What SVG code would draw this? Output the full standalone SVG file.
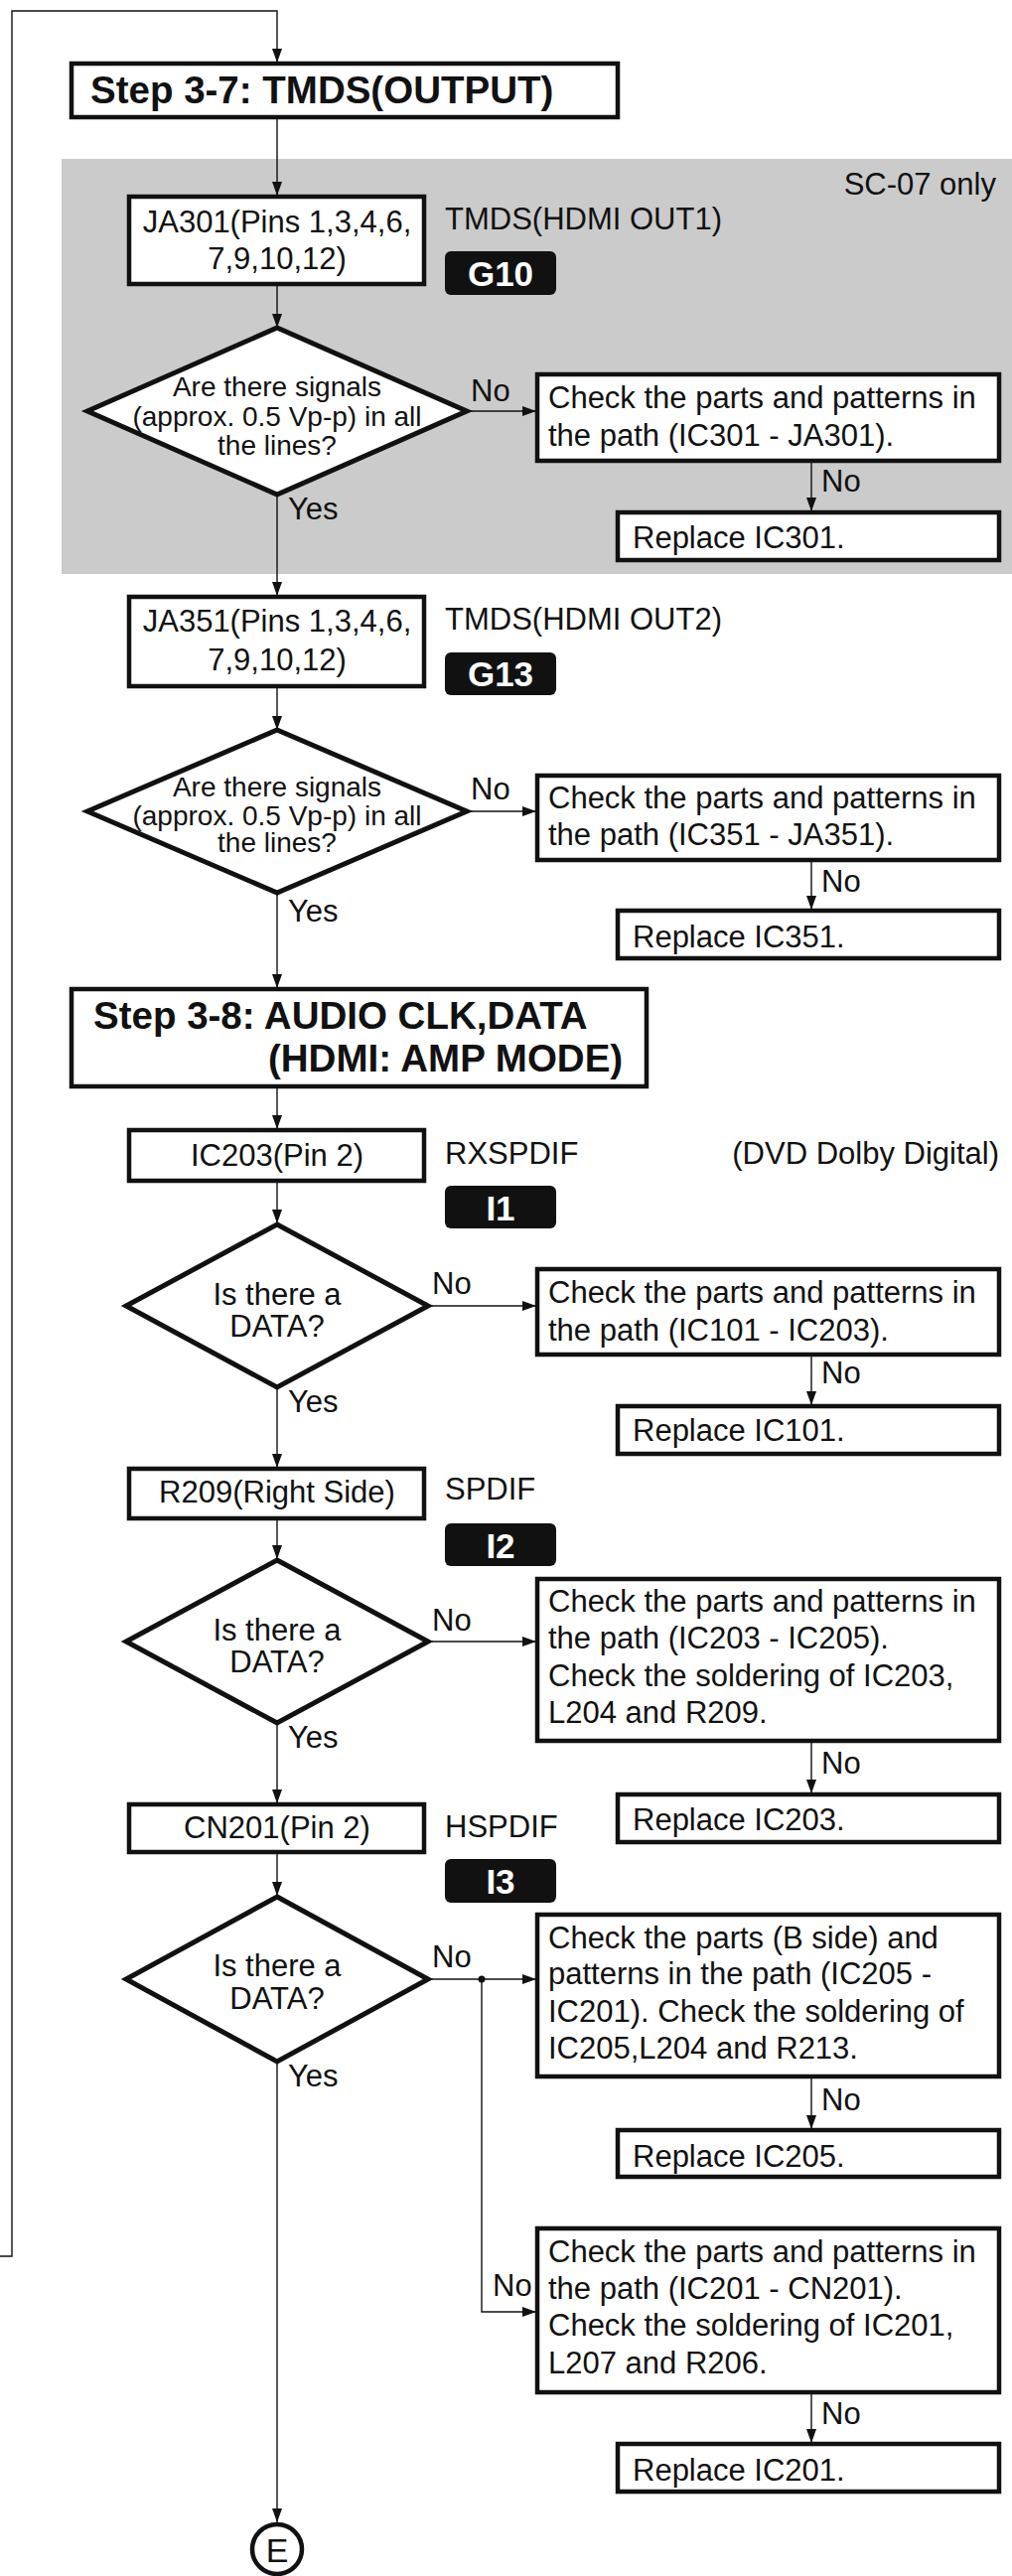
<svg xmlns="http://www.w3.org/2000/svg" width="1019" height="2594" viewBox="0 0 1019 2594">
<defs>
<marker id="arr" markerUnits="userSpaceOnUse" markerWidth="15" markerHeight="10" refX="14" refY="5" orient="auto">
<path d="M0,0 L14,5 L0,10 z" fill="#111"/>
</marker>
</defs>
<style>
text{font-family:"Liberation Sans",Arial,sans-serif;fill:#111;font-size:31px}
.box{fill:#fff;stroke:#111;stroke-width:4.5}
.dia{fill:#fff;stroke:#111;stroke-width:5}
.step{font-weight:bold;font-size:38.5px}
.mid{text-anchor:middle}
.end{text-anchor:end}
.dt{font-size:28px}
.badge rect{fill:#111}
.badge text{fill:#fff;font-weight:bold;font-size:35px;text-anchor:middle}
.conn path{fill:none;stroke:#111;stroke-width:1.4}
</style>
<rect id="sc07-region" x="62" y="160" width="957" height="418" fill="#cbcbcb"/>
<text class="end" x="1003" y="196">SC-07 only</text>

<g class="conn" id="connectors">
<path d="M0,2272 H12 V11 H279 V63" marker-end="url(#arr)"/>
<path d="M279,118 V197" marker-end="url(#arr)"/>
<path d="M279,286 V330" marker-end="url(#arr)"/>
<path d="M470,414 H540" marker-end="url(#arr)"/>
<path d="M817,464 V515" marker-end="url(#arr)"/>
<path d="M279,498 V600" marker-end="url(#arr)"/>
<path d="M279,691 V735" marker-end="url(#arr)"/>
<path d="M470,817 H540" marker-end="url(#arr)"/>
<path d="M817,866 V916" marker-end="url(#arr)"/>
<path d="M279,899 V995" marker-end="url(#arr)"/>
<path d="M279,1094 V1137" marker-end="url(#arr)"/>
<path d="M279,1189 V1232" marker-end="url(#arr)"/>
<path d="M431,1315 H540" marker-end="url(#arr)"/>
<path d="M817,1364 V1415" marker-end="url(#arr)"/>
<path d="M279,1397 V1478" marker-end="url(#arr)"/>
<path d="M279,1529 V1570" marker-end="url(#arr)"/>
<path d="M431,1653 H540" marker-end="url(#arr)"/>
<path d="M817,1753 V1806" marker-end="url(#arr)"/>
<path d="M279,1735 V1816" marker-end="url(#arr)"/>
<path d="M279,1865 V1909" marker-end="url(#arr)"/>
<path d="M431,1993 H540" marker-end="url(#arr)"/>
<path d="M485,1993 V2328 H540" marker-end="url(#arr)"/>
<path d="M817,2091 V2144" marker-end="url(#arr)"/>
<path d="M817,2409 V2460" marker-end="url(#arr)"/>
<path d="M279,2076 V2540" marker-end="url(#arr)"/>
<circle cx="485" cy="1993" r="3.5" fill="#111"/>
</g>

<g id="step37">
<rect class="box" x="72" y="64" width="550" height="54"/>
<text class="step" x="91" y="104">Step 3-7: TMDS(OUTPUT)</text>
</g>

<g id="ja301">
<rect class="box" x="130" y="198" width="297" height="88"/>
<text class="mid" x="279" y="234">JA301(Pins 1,3,4,6,</text>
<text class="mid" x="279" y="271">7,9,10,12)</text>
</g>
<text x="448" y="231">TMDS(HDMI OUT1)</text>
<g class="badge" id="g10"><rect x="448" y="253" width="112" height="44" rx="6"/><text x="504" y="288">G10</text></g>

<g id="dec1">
<polygon class="dia" points="279,330 470,414 279,498 88,414"/>
<text class="mid dt" x="279" y="399">Are there signals</text>
<text class="mid dt" x="279" y="429">(approx. 0.5 Vp-p) in all</text>
<text class="mid dt" x="279" y="458">the lines?</text>
</g>
<text x="474" y="404">No</text>
<text x="290" y="523">Yes</text>

<g id="check1">
<rect class="box" x="541" y="377" width="465" height="87"/>
<text x="552" y="411">Check the parts and patterns in</text>
<text x="552" y="449">the path (IC301 - JA301).</text>
</g>
<text x="827" y="495">No</text>
<g id="replace1">
<rect class="box" x="622" y="516" width="384" height="48"/>
<text x="637" y="552">Replace IC301.</text>
</g>

<g id="ja351">
<rect class="box" x="130" y="601" width="297" height="90"/>
<text class="mid" x="279" y="636">JA351(Pins 1,3,4,6,</text>
<text class="mid" x="279" y="675">7,9,10,12)</text>
</g>
<text x="448" y="634">TMDS(HDMI OUT2)</text>
<g class="badge" id="g13"><rect x="448" y="657" width="112" height="43" rx="6"/><text x="504" y="691">G13</text></g>

<g id="dec2">
<polygon class="dia" points="279,735 470,817 279,899 88,817"/>
<text class="mid dt" x="279" y="802">Are there signals</text>
<text class="mid dt" x="279" y="831">(approx. 0.5 Vp-p) in all</text>
<text class="mid dt" x="279" y="858">the lines?</text>
</g>
<text x="474" y="805">No</text>
<text x="290" y="928">Yes</text>

<g id="check2">
<rect class="box" x="541" y="781" width="465" height="85"/>
<text x="552" y="814">Check the parts and patterns in</text>
<text x="552" y="851">the path (IC351 - JA351).</text>
</g>
<text x="827" y="898">No</text>
<g id="replace2">
<rect class="box" x="622" y="917" width="384" height="48"/>
<text x="637" y="954">Replace IC351.</text>
</g>

<g id="step38">
<rect class="box" x="72" y="996" width="579" height="98"/>
<text class="step" x="94" y="1036">Step 3-8: AUDIO CLK,DATA</text>
<text class="step" x="270" y="1079">(HDMI: AMP MODE)</text>
</g>

<g id="ic203">
<rect class="box" x="130" y="1138" width="297" height="51"/>
<text class="mid" x="279" y="1174">IC203(Pin 2)</text>
</g>
<text x="448" y="1172">RXSPDIF</text>
<text class="end" x="1006" y="1172">(DVD Dolby Digital)</text>
<g class="badge" id="i1"><rect x="448" y="1194" width="112" height="43" rx="6"/><text x="504" y="1229">I1</text></g>

<g id="dec3">
<polygon class="dia" points="279,1233 431,1315 279,1397 127,1315"/>
<text class="mid" x="279" y="1314">Is there a</text>
<text class="mid" x="279" y="1346">DATA?</text>
</g>
<text x="435" y="1303">No</text>
<text x="290" y="1422">Yes</text>

<g id="check3">
<rect class="box" x="541" y="1278" width="465" height="86"/>
<text x="552" y="1312">Check the parts and patterns in</text>
<text x="552" y="1350">the path (IC101 - IC203).</text>
</g>
<text x="827" y="1393">No</text>
<g id="replace3">
<rect class="box" x="622" y="1416" width="384" height="48"/>
<text x="637" y="1451">Replace IC101.</text>
</g>

<g id="r209">
<rect class="box" x="130" y="1479" width="297" height="50"/>
<text class="mid" x="279" y="1513">R209(Right Side)</text>
</g>
<text x="448" y="1510">SPDIF</text>
<g class="badge" id="i2"><rect x="448" y="1534" width="112" height="43" rx="6"/><text x="504" y="1569">I2</text></g>

<g id="dec4">
<polygon class="dia" points="279,1571 431,1653 279,1735 127,1653"/>
<text class="mid" x="279" y="1652">Is there a</text>
<text class="mid" x="279" y="1684">DATA?</text>
</g>
<text x="435" y="1642">No</text>
<text x="290" y="1760">Yes</text>

<g id="check4">
<rect class="box" x="541" y="1590" width="465" height="163"/>
<text x="552" y="1623">Check the parts and patterns in</text>
<text x="552" y="1660">the path (IC203 - IC205).</text>
<text x="552" y="1698">Check the soldering of IC203,</text>
<text x="552" y="1735">L204 and R209.</text>
</g>
<text x="827" y="1786">No</text>
<g id="replace4">
<rect class="box" x="622" y="1807" width="384" height="48"/>
<text x="637" y="1843">Replace IC203.</text>
</g>

<g id="cn201">
<rect class="box" x="130" y="1817" width="297" height="48"/>
<text class="mid" x="279" y="1851">CN201(Pin 2)</text>
</g>
<text x="448" y="1850">HSPDIF</text>
<g class="badge" id="i3"><rect x="448" y="1872" width="112" height="44" rx="6"/><text x="504" y="1907">I3</text></g>

<g id="dec5">
<polygon class="dia" points="279,1910 431,1993 279,2076 127,1993"/>
<text class="mid" x="279" y="1990">Is there a</text>
<text class="mid" x="279" y="2023">DATA?</text>
</g>
<text x="435" y="1981">No</text>
<text x="290" y="2101">Yes</text>

<g id="check5">
<rect class="box" x="541" y="1928" width="465" height="163"/>
<text x="552" y="1962">Check the parts (B side) and</text>
<text x="552" y="1998">patterns in the path (IC205 -</text>
<text x="552" y="2036">IC201). Check the soldering of</text>
<text x="552" y="2073">IC205,L204 and R213.</text>
</g>
<text x="827" y="2125">No</text>
<g id="replace5">
<rect class="box" x="622" y="2145" width="384" height="47"/>
<text x="637" y="2182">Replace IC205.</text>
</g>

<text x="496" y="2312">No</text>
<g id="check6">
<rect class="box" x="541" y="2244" width="465" height="165"/>
<text x="552" y="2278">Check the parts and patterns in</text>
<text x="552" y="2315">the path (IC201 - CN201).</text>
<text x="552" y="2352">Check the soldering of IC201,</text>
<text x="552" y="2390">L207 and R206.</text>
</g>
<text x="827" y="2441">No</text>
<g id="replace6">
<rect class="box" x="622" y="2461" width="384" height="48"/>
<text x="637" y="2498">Replace IC201.</text>
</g>

<g id="conn-e">
<circle cx="279" cy="2567" r="25" fill="#fff" stroke="#111" stroke-width="4.5"/>
<text class="mid" x="279" y="2580" style="font-size:34px">E</text>
</g>
</svg>
